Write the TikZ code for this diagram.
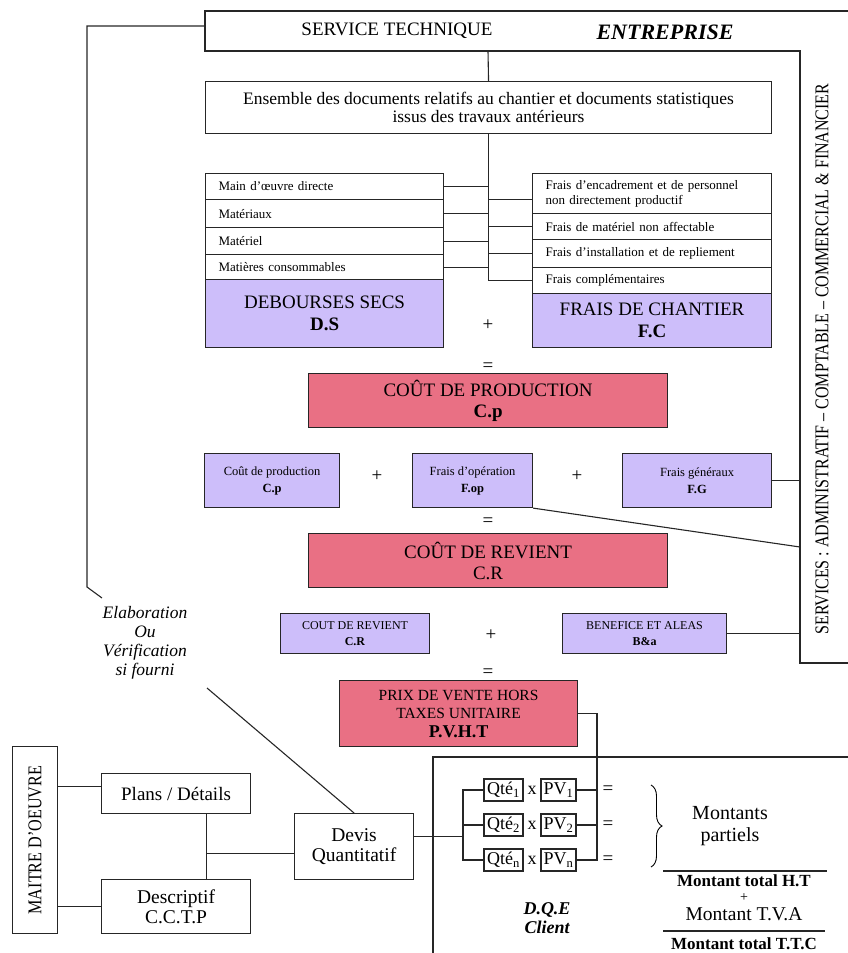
\documentclass[tikz,border=0pt]{standalone}
\usepackage{fontspec}
\setmainfont{Liberation Serif}
\usetikzlibrary{calc,decorations.pathreplacing}

\definecolor{lavande}{RGB}{205,190,250}
\definecolor{rose}{RGB}{233,112,132}
\newcommand{\taille}[2]{\fontsize{#1}{#2}\selectfont}

\tikzset{
  trait/.style={draw=black!85, line width=1.1pt},
  boite/.style={trait, inner sep=0pt, align=center, anchor=north west},
  ligne/.style={boite, text width=212pt, inner xsep=13pt, align=left, font=\taille{13}{15}},
  violet/.style={boite, fill=lavande},
  rouge/.style={boite, fill=rose},
  signe/.style={font=\taille{19}{21}, inner sep=0pt},
  qte/.style={trait, inner sep=1pt, minimum height=22pt, font=\taille{18}{20}}
}

\begin{document}
\begin{tikzpicture}[x=1pt, y=-1pt]
\useasboundingbox (0,0) rectangle (848,953);

% Cadre entreprise et services
\draw[trait] (860,11) -- (205,11) -- (205,51) -- (800,51) -- (800,663) -- (860,663);
\coordinate (techbas) at (488,51);
\coordinate (techg) at (205,26);
\coordinate (servg) at (800,51);
\node[font=\taille{19}{21}] (techlbl) at (397,31) {SERVICE TECHNIQUE};
\node[font=\taille{22}{24}\bfseries\itshape] (entlbl) at (665,32) {ENTREPRISE};
\node (serv) at (822,359) {\rotatebox{90}{\scalebox{0.82}[1]{\taille{19.5}{21}SERVICES : ADMINISTRATIF -- COMPTABLE -- COMMERCIAL \& FINANCIER}}};

% Documents
\node[boite, minimum width=566pt, minimum height=52pt, font=\taille{17.5}{18}] (docs) at (205,81)
  {Ensemble des documents relatifs au chantier et documents statistiques\\issus des travaux antérieurs};

% Debourses secs
\node[ligne, minimum height=26pt] (ds1) at (205,173) {Main d’œuvre directe};
\node[ligne, minimum height=28pt] (ds2) at (205,199) {Matériaux};
\node[ligne, minimum height=27pt] (ds3) at (205,227) {Matériel};
\node[ligne, minimum height=25pt] (ds4) at (205,254) {Matières consommables};
\node[violet, minimum width=238pt, minimum height=68pt, font=\taille{19}{22}] (dsb) at (205,279) {DEBOURSES SECS\\\textbf{D.S}};

% Frais de chantier
\node[ligne, text width=213pt, minimum height=40pt] (fc1) at (532,173) {Frais d’encadrement et de personnel\\non directement productif};
\node[ligne, text width=213pt, minimum height=26pt] (fc2) at (532,213) {Frais de matériel non affectable};
\node[ligne, text width=213pt, minimum height=28pt] (fc3) at (532,239) {Frais d’installation et de repliement};
\node[ligne, text width=213pt, minimum height=26pt] (fc4) at (532,267) {Frais complémentaires};
\node[violet, minimum width=239pt, minimum height=54pt, font=\taille{19}{22}] (fcb) at (532,293) {FRAIS DE CHANTIER\\\textbf{F.C}};

\draw[trait] (techbas) -- (docs.north);
\draw[trait] (docs.south) -- (docs.south |- fc4.west);
\foreach \n in {ds1,ds2,ds3,ds4}
  \draw[trait] (\n.east) -- (\n.east -| docs.south);
\foreach \n in {fc2,fc3,fc4}
  \draw[trait] (\n.west) -- (\n.west -| docs.south);
\draw[trait] ([yshift=-6pt]fc1.west) -- ([yshift=-6pt]fc1.west -| docs.south);

\node[signe] (plus1) at (488,325) {+};
\node[signe] (egal1) at (488,367) {=};

% Cout de production
\node[rouge, minimum width=359pt, minimum height=54pt, font=\taille{19}{21}] (cp) at (308,373) {COÛT DE PRODUCTION\\\textbf{C.p}};

\node[violet, minimum width=135pt, minimum height=54pt, font=\taille{12.5}{17}] (cpb) at (204,453) {Coût de production\\\textbf{C.p}};
\node[signe] (plus2) at (377,476) {+};
\node[violet, minimum width=120pt, minimum height=54pt, font=\taille{12.5}{17}] (fop) at (412,453) {Frais d’opération\\\textbf{F.op}};
\node[signe] (plus3) at (577,476) {+};
\node[violet, minimum width=149pt, minimum height=54pt, font=\taille{12.5}{17}] (fg) at (622,453) {Frais généraux\\\textbf{F.G}};
\coordinate (servop) at (800,547);
\draw[trait] (fg.east) -- (fg.east -| servg);
\draw[trait] (fop.south east) -- (servop);

\node[signe] (egal2) at (488,522) {=};

% Cout de revient
\node[rouge, minimum width=359pt, minimum height=54pt, font=\taille{19}{21}] (cr) at (308,533) {COÛT DE REVIENT\\C.R};

\node[violet, minimum width=149pt, minimum height=40pt, font=\taille{12}{16.5}] (crb) at (280,613) {COUT DE REVIENT\\\textbf{C.R}};
\node[signe] (plus4) at (491,635) {+};
\node[violet, minimum width=164pt, minimum height=40pt, font=\taille{12}{16.5}] (ba) at (562,613) {BENEFICE ET ALEAS\\\textbf{B\&a}};
\draw[trait] (ba.east) -- (ba.east -| servg);

\node[signe] (egal3) at (488,673) {=};

% Prix de vente
\node[rouge, minimum width=238pt, minimum height=66pt, font=\taille{15.5}{18.5}] (pv) at (339,680)
  {PRIX DE VENTE HORS\\TAXES UNITAIRE\\\textbf{\taille{18}{18.5}P.V.H.T}};

% Maitre d'oeuvre
\node[boite, minimum width=45pt, minimum height=187pt] (moe) at (12,746) {\rotatebox{90}{\scalebox{0.83}[1]{\taille{19.5}{21}MAITRE D'OEUVRE}}};
\node[boite, minimum width=149pt, minimum height=40pt, font=\taille{19}{20}] (plans) at (101,773) {Plans / Détails};
\node[boite, minimum width=149pt, minimum height=54pt, font=\taille{19.5}{20}] (desc) at (101,879) {Descriptif\\C.C.T.P};
\node[boite, minimum width=119pt, minimum height=66pt, font=\taille{19.5}{20}] (devis) at (294,813) {Devis\\Quantitatif};
\coordinate (plansbas) at ([xshift=30pt]plans.south);
\draw[trait] ([yshift=7pt]plans.west) -- ([yshift=7pt]plans.west -| moe.east);
\draw[trait] (desc.west) -- (desc.west -| moe.east);
\draw[trait] (plansbas) -- (plansbas |- desc.north);
\draw[trait] ([yshift=-7pt]devis.west) -- ([yshift=-7pt]devis.west -| plansbas);

% Elaboration
\node[font=\taille{17.5}{19}\itshape, align=center] (elab) at (145,643) {Elaboration\\Ou\\Vérification\\si fourni};
\coordinate (elabhaut) at (102,598);
\coordinate (elabbas) at (207,688);
\draw[trait] (techg) -- (87,26) -- (87,587) -- (elabhaut);
\draw[trait] (elabbas) -- (devis.north);

% D.Q.E
\draw[trait] (433,960) -- (433,757) -- (860,757);
\coordinate (brx) at (463,757);
\coordinate (pvx) at (597,757);
\foreach \i/\s/\y in {1/1/790, 2/2/825, 3/n/860} {
  \node[qte, minimum width=39pt] (q\i) at (503.5,\y) {Qté\textsubscript{\s}};
  \node[font=\taille{18}{20}, inner sep=0pt] (x\i) at (532,\y) {x};
  \node[qte, minimum width=35pt] (p\i) at (558.5,\y) {PV\textsubscript{\s}};
  \node[signe] (e\i) at (608,\y) {=};
}
\draw[trait] (q1.west) -| (brx |- q3.west) -- (q3.west);
\draw[trait] (q2.west) -- (q2.west -| brx);
\draw[trait] ([yshift=10pt]devis.east) -- ([yshift=10pt]devis.east -| brx);
\draw[trait] (pv.east) -| (pvx |- p3.east) -- (p3.east);
\draw[trait] (p1.east) -- (p1.east -| pvx);
\draw[trait] (p2.east) -- (p2.east -| pvx);

\draw[line width=0.9pt, decorate, decoration={brace, amplitude=11pt}] (651,785) -- (651,867);
\node[font=\taille{20}{22}, align=center] (mont) at (730,826) {Montants\\partiels};
\draw[trait] (663,871) -- (827,871);
\node[font=\taille{17}{19}\bfseries, inner sep=0pt] (ht) at (744,881) {Montant total H.T};
\node[font=\taille{14}{14}, inner sep=0pt] (plus5) at (744,898) {+};
\node[font=\taille{19.5}{21}, inner sep=0pt] (tva) at (744,914) {Montant T.V.A};
\draw[trait] (663,931) -- (825,931);
\node[font=\taille{17}{19}\bfseries, inner sep=0pt] (ttc) at (744,944) {Montant total T.T.C};
\node[font=\taille{18}{19}\bfseries\itshape, align=center] (dqe) at (547,918) {D.Q.E\\Client};
\end{tikzpicture}
\end{document}
